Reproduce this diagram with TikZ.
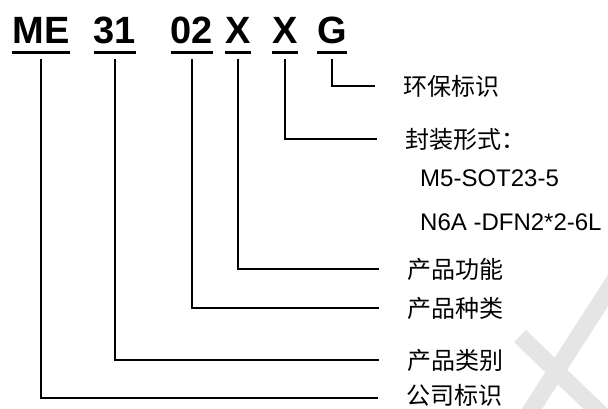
\documentclass[tikz,border=0pt]{standalone}
\usepackage{fontspec}
\setmainfont{Liberation Sans}
\newfontfamily\cjk{Noto Sans CJK SC}
\usepackage{tikz}

\begin{document}
\begin{tikzpicture}[x=1pt, y=-1pt,
		code_style/.style={font=\fontsize{38}{38}\selectfont\bfseries, inner sep=0pt, text depth=0pt, anchor=base},
		label_style/.style={font=\cjk\fontsize{24}{24}\selectfont, inner sep=0pt, anchor=west},
		info_style/.style={font=\fontsize{24}{24}\selectfont, inner sep=0pt, anchor=west},
		edge_style/.style={draw=black, line width=2.2pt, shorten <=16pt, shorten >=28pt},
		uline_style/.style={draw=black, line width=3pt},
		mark_style/.style={draw=gray!20, line width=17pt}]

		\useasboundingbox (0,0) rectangle (608,408);

		% watermark
		\begin{scope}
		\clip (0,0) rectangle (608,408);
		\draw[mark_style] (520,336) -- (605,418);
		\draw[mark_style] (616,278) -- (526,418);
		\end{scope}

		\node[code_style] (me)  at (41,43)  {ME};
		\node[code_style] (n31) at (115,43) {31};
		\node[code_style] (n02) at (192,43) {02};
		\node[code_style] (xf)  at (238,43) {X};
		\node[code_style] (xp)  at (285,43) {X};
		\node[code_style] (g)   at (332,43) {G};

		\node[label_style] (env)  at (403,86)  {环保标识};
		\node[label_style] (pkg)  at (405,139) {封装形式：};
		\node[info_style]  (pkga) at (420,178) {M5-SOT23-5};
		\node[info_style]  (pkgb) at (420,222) {N6A -DFN2*2-6L};
		\node[label_style] (func) at (407,269) {产品功能};
		\node[label_style] (kind) at (407,308) {产品种类};
		\node[label_style] (cat)  at (407,360) {产品类别};
		\node[label_style] (comp) at (406,395) {公司标识};

		\draw[uline_style] ([yshift=-9pt]me.south west)  -- ([yshift=-9pt]me.south east);
		\draw[uline_style] ([yshift=-9pt]n31.south west) -- ([yshift=-9pt]n31.south east);
		\draw[uline_style] ([yshift=-9pt]n02.south west) -- ([yshift=-9pt]n02.south east);
		\draw[uline_style] ([yshift=-9pt]xf.south west)  -- ([yshift=-9pt]xf.south east);
		\draw[uline_style] ([yshift=-9pt]xp.south west)  -- ([yshift=-9pt]xp.south east);
		\draw[uline_style] ([yshift=-9pt]g.south west)   -- ([yshift=-9pt]g.south east);

		\draw[edge_style] (g)   |- (env.west);
		\draw[edge_style] (xp)  |- (pkg.west);
		\draw[edge_style] (xf)  |- (func.west);
		\draw[edge_style] (n02) |- (kind.west);
		\draw[edge_style] (n31) |- (cat.west);
		\draw[edge_style] (me)  |- ([yshift=-3pt]comp.west);

\end{tikzpicture}
\end{document}
